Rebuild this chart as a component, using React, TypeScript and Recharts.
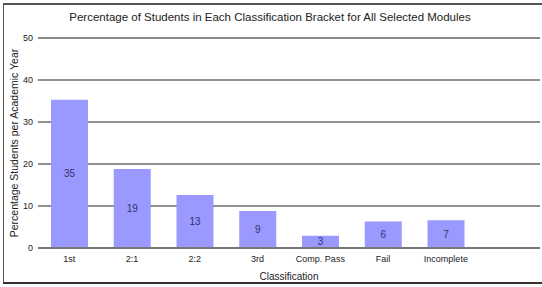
import React from "react";
import { BarChart, Bar, XAxis, YAxis, CartesianGrid, LabelList, ReferenceLine } from "recharts";

const categories = ["1st", "2:1", "2:2", "3rd", "Comp. Pass", "Fail", "Incomplete", ""];
const percentages: (number | null)[] = [35.3, 18.8, 12.6, 8.8, 2.9, 6.3, 6.6, null];
const yTicks = [0, 10, 20, 30, 40, 50];

const data = categories.map((c, i) => ({ name: c, value: percentages[i] }));

const FONT = "'Liberation Sans', Arial, sans-serif";

export default function App() {
  return (
    <div style={{ position: "absolute", left: 0, top: 0, width: 542, height: 287, background: "#fff" }}>
      <div
        style={{
          position: "absolute",
          left: 3,
          top: 3,
          width: 539,
          height: 281,
          borderTop: "2px solid #555",
          borderLeft: "1px solid #555",
          borderBottom: "2px solid #333",
          boxSizing: "border-box",
        }}
      />
      <svg style={{ position: "absolute", left: 0, top: 0 }} width={542} height={30}>
        <text x={270} y={21} textAnchor="middle" fontFamily={FONT} fontSize={11.5} fill="#222">
          Percentage of Students in Each Classification Bracket for All Selected Modules
        </text>
      </svg>
      <div style={{ position: "absolute", left: 0, top: 0 }}>
        <BarChart width={542} height={287} data={data} margin={{ top: 38, right: 2, left: 0, bottom: 0 }} barSize={37}>
          <CartesianGrid vertical={false} stroke="#222" strokeWidth={1} />
          <XAxis
            dataKey="name"
            axisLine={false}
            tickLine={false}
            height={39}
            tick={{ fontSize: 9, fill: "#222", fontFamily: FONT }}
            tickMargin={2}
            interval={0}
            label={{ value: "Classification", position: "insideBottom", offset: 7, fontSize: 10, fill: "#222", fontFamily: FONT }}
          />
          <YAxis
            domain={[0, 50]}
            ticks={yTicks}
            axisLine={false}
            tickLine={false}
            width={38}
            tickSize={5}
            tickMargin={0}
            tick={{ fontSize: 9, fill: "#222", fontFamily: FONT }}
            label={{
              value: "Percentage Students per Academic Year",
              angle: -90,
              position: "insideLeft",
              offset: 14,
              style: { textAnchor: "middle" },
              fontSize: 10.5,
              fill: "#222",
              fontFamily: FONT,
            }}
          />
          <ReferenceLine y={50} stroke="#888" strokeWidth={2} />
          <Bar dataKey="value" fill="#9999ff" isAnimationActive={false}>
            <LabelList
              dataKey="value"
              position="center"
              formatter={(v: any) => (v == null ? "" : Math.round(Number(v)))}
              style={{ fontSize: 10, fill: "#333366", fontFamily: FONT }}
            />
          </Bar>
          <ReferenceLine y={0} stroke="#777" strokeWidth={2} />
        </BarChart>
      </div>
    </div>
  );
}
